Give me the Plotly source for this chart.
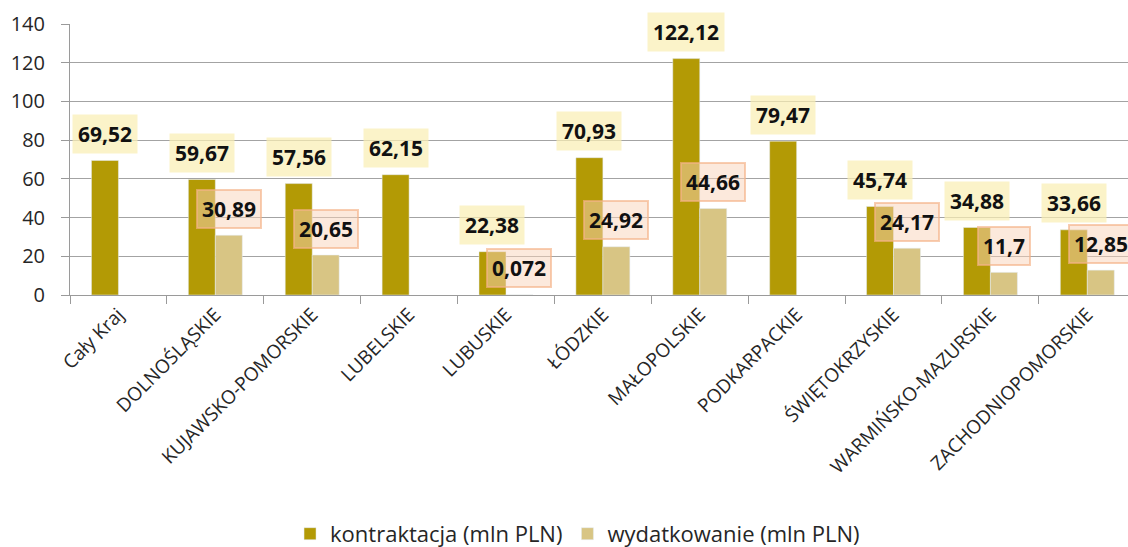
import plotly.graph_objects as go

categories = ["Cały Kraj", "DOLNOŚLĄSKIE", "KUJAWSKO-POMORSKIE", "LUBELSKIE", "LUBUSKIE",
              "ŁÓDZKIE", "MAŁOPOLSKIE", "PODKARPACKIE", "ŚWIĘTOKRZYSKIE",
              "WARMIŃSKO-MAZURSKIE", "ZACHODNIOPOMORSKIE"]
kontraktacja = [69.52, 59.67, 57.56, 62.15, 22.38, 70.93, 122.12, 79.47, 45.74, 34.88, 33.66]
wydatkowanie = [None, 30.89, 20.65, None, 0.072, 24.92, 44.66, None, 24.17, 11.7, 12.85]
series_names = ["kontraktacja (mln PLN)", "wydatkowanie (mln PLN)"]
y_ticks = [0, 20, 40, 60, 80, 100, 120, 140]

C_K = "#b39a05"
C_W = "#d8c584"


def fmt(v):
    return str(v).replace(".", ",")


fig = go.Figure()
fig.add_trace(go.Bar(x=categories, y=kontraktacja, name=series_names[0], marker_color=C_K))
fig.add_trace(go.Bar(x=categories, y=wydatkowanie, name=series_names[1], marker_color=C_W))

ann = []
for c, v in zip(categories, kontraktacja):
    ann.append(dict(x=c, y=v, xref="x", yref="y", text=fmt(v), showarrow=False,
                    xshift=-13.5, yshift=26.5, yanchor="middle",
                    font=dict(family="Open Sans", size=21, color="#111111", weight="bold"),
                    bgcolor="rgba(249,238,180,0.72)", bordercolor="rgba(0,0,0,0)",
                    borderwidth=1, borderpad=5))
for c, v in zip(categories, wydatkowanie):
    if v is None:
        continue
    ann.append(dict(x=c, y=v, xref="x", yref="y", text=fmt(v), showarrow=False,
                    xshift=13.5, yshift=26.5, yanchor="middle",
                    font=dict(family="Open Sans", size=21, color="#111111", weight="bold"),
                    bgcolor="rgba(250,212,185,0.5)", bordercolor="rgba(244,178,135,0.65)",
                    borderwidth=2, borderpad=4))

fig.update_layout(
    width=1128, height=547,
    margin=dict(l=70, r=0, t=24, b=252, autoexpand=False),
    paper_bgcolor="white", plot_bgcolor="white",
    barmode="group", bargap=0.443, bargroupgap=0,
    font=dict(family="Open Sans", color="#262626"),
    annotations=ann,
    showlegend=True,
    legend=dict(orientation="h", xref="container", x=0.512, xanchor="center",
                yref="container", y=0.024, yanchor="middle",
                font=dict(family="Open Sans", size=22, color="#262626"),
                bgcolor="rgba(0,0,0,0)"),
    xaxis=dict(type="category", range=[-0.5, 10.42], tickangle=-45, automargin=False,
               tickfont=dict(family="Open Sans", size=19, color="#262626"),
               showline=True, linecolor="#9a9a9a", linewidth=1,
               ticks="outside", tickson="boundaries", ticklen=8, tickcolor="#9a9a9a",
               showgrid=False),
    yaxis=dict(range=[0, 140], tickvals=y_ticks, showgrid=True, gridcolor="#a3a3a3",
               gridwidth=1, zeroline=False, automargin=False,
               showline=True, linecolor="#9a9a9a", linewidth=1,
               ticks="outside", ticklen=8, tickcolor="#9a9a9a", ticklabelstandoff=12,
               tickfont=dict(family="Open Sans", size=20, color="#262626")),
)

fig.write_html("out.html", config={"displayModeBar": False},
               post_script="document.body.style.margin='0';document.body.style.overflow='hidden';")
